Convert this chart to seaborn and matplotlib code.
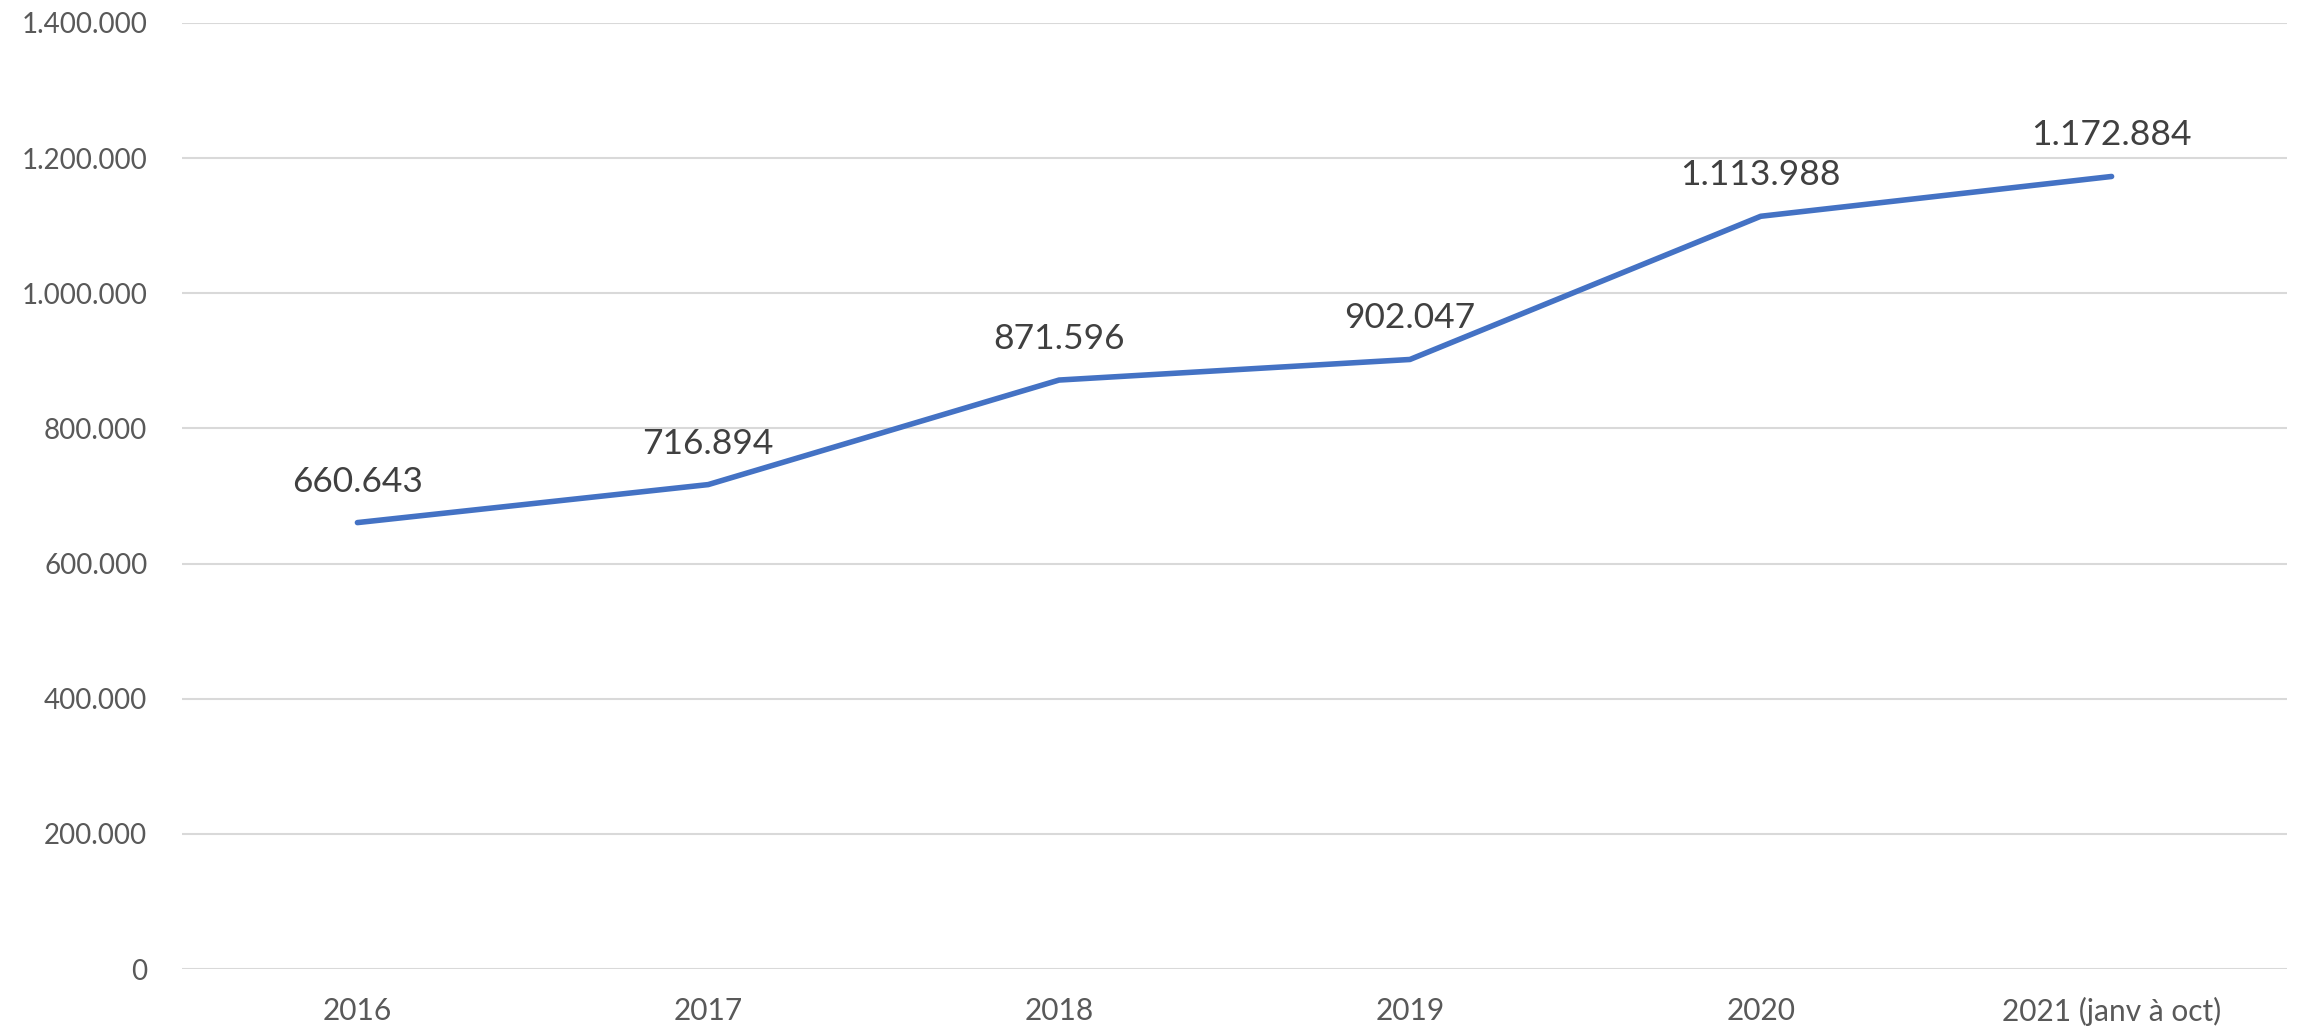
import matplotlib
matplotlib.use("Agg")
import matplotlib.pyplot as plt
import seaborn as sns
import pandas as pd

years = ["2016", "2017", "2018", "2019", "2020", "2021 (janv à oct)"]
values = [660643, 716894, 871596, 902047, 1113988, 1172884]
y_ticks = [0, 200000, 400000, 600000, 800000, 1000000, 1200000, 1400000]

def fmt(v):
    return f"{v:,}".replace(",", ".")

sns.set_theme(style="white")
plt.rcParams['font.family'] = ['Lato', 'DejaVu Sans']

df = pd.DataFrame({"year": years, "value": values})

fig = plt.figure(figsize=(23, 10.34), dpi=100)
ax = fig.add_axes([182/2300, 65/1034, (2287-182)/2300, (969-23)/1034])

sns.lineplot(data=df, x="year", y="value", ax=ax, color="#4472C4",
             linewidth=4, sort=False, solid_capstyle="round")

ax.set_xlim(-0.5, len(years) - 0.5)
ax.set_ylim(0, 1400000)
ax.set_yticks(y_ticks)
ax.set_yticklabels([fmt(t) for t in y_ticks])
ax.yaxis.grid(True, color="#D9D9D9", linewidth=1.5)
ax.xaxis.grid(False)
for s in ax.spines.values():
    s.set_visible(False)
ax.tick_params(axis="y", length=0, pad=25, labelsize=20, labelcolor="#595959")
ax.tick_params(axis="x", length=0, pad=20, labelsize=21.5, labelcolor="#595959")
ax.set_xlabel("")
ax.set_ylabel("")

for i, v in enumerate(values):
    ax.annotate(fmt(v), (i, v), xytext=(0, 18), textcoords="offset points",
                ha="center", va="bottom", fontsize=25.5, color="#404040")

fig.savefig("out.png", dpi=100)
